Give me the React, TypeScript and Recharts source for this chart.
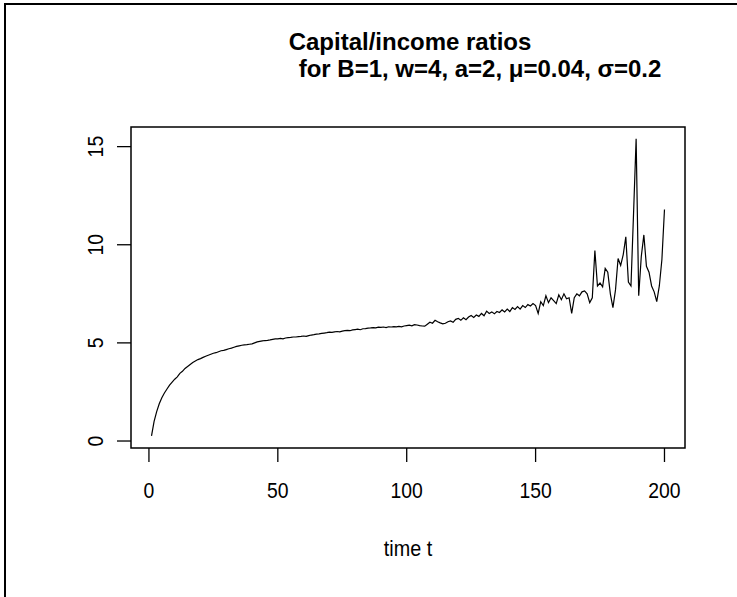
import React, { useEffect } from "react"
import { LineChart, Line, XAxis, YAxis, ReferenceArea } from "recharts"

// capital/income ratio at t = 1..200
const ratio = [
  0.26, 1.0, 1.5, 1.9, 2.2, 2.45, 2.65, 2.85, 3.0, 3.15,
  3.27, 3.45, 3.55, 3.7, 3.8, 3.9, 4.0, 4.08, 4.15, 4.2,
  4.26, 4.32, 4.37, 4.42, 4.47, 4.5, 4.55, 4.6, 4.62, 4.66,
  4.7, 4.73, 4.78, 4.82, 4.85, 4.88, 4.9, 4.91, 4.93, 4.95,
  5.0, 5.05, 5.08, 5.1, 5.12, 5.13, 5.15, 5.18, 5.2, 5.2,
  5.23, 5.21, 5.25, 5.27, 5.28, 5.3, 5.3, 5.32, 5.33, 5.35,
  5.33, 5.37, 5.4, 5.42, 5.45, 5.46, 5.48, 5.5, 5.52, 5.55,
  5.54, 5.56, 5.58, 5.56, 5.6, 5.62, 5.64, 5.62, 5.66, 5.68,
  5.7, 5.67, 5.72, 5.73, 5.75, 5.76, 5.78, 5.77, 5.8, 5.79,
  5.81, 5.78, 5.82, 5.81, 5.83, 5.82, 5.84, 5.82, 5.86, 5.88,
  5.9, 5.87, 5.93, 5.91, 5.88, 5.86, 5.85, 5.95, 6.05, 6.0,
  6.15, 6.08, 6.02, 5.97, 6.0, 6.08, 6.12, 6.05, 6.2, 6.25,
  6.15, 6.28, 6.18, 6.32, 6.4, 6.3, 6.42, 6.35, 6.5, 6.38,
  6.62, 6.5, 6.58, 6.48, 6.6, 6.55, 6.68, 6.58, 6.72, 6.6,
  6.8, 6.7, 6.85, 6.72, 6.9, 6.8, 6.95, 6.88, 7.0, 6.9,
  6.5, 7.1, 6.9, 7.4, 7.05, 7.3, 7.15, 7.0, 7.45, 7.2,
  7.5, 7.25, 7.3, 6.5, 7.3, 7.5, 7.4, 7.6, 7.65, 7.5,
  7.05, 7.3, 9.7, 7.9, 8.05, 7.85, 8.8, 8.6, 7.5, 6.8,
  7.7, 9.3, 8.95, 9.5, 10.4, 8.1, 7.9, 11.6, 15.4, 7.4,
  9.4, 10.5, 8.9, 8.6, 7.9, 7.6, 7.1, 7.9, 9.25, 11.8,
]

const xTicks = [0, 50, 100, 150, 200]
const yTicks = [0, 5, 10, 15]
const xDomain = [-6.96, 207.96]
const yDomain = [-0.356, 16.0]

const titleLines = ["Capital/income ratios", "for B=1, w=4, a=2, \u03bc=0.04, \u03c3=0.2"]
const xLabel = "time t"

const data = ratio.map((v, i) => ({ t: i + 1, v }))

const FONT = '"Liberation Sans", Arial, sans-serif'

// R's text here looks a bit narrow and tall
const XTick = (props: any) => {
  const { x, y, payload } = props
  return (
    <text
      transform={`translate(${x},${y + 34}) scale(0.88,1)`}
      textAnchor="middle"
      fontSize={22}
      fontFamily={FONT}
      fill="#000"
    >
      {payload.value}
    </text>
  )
}

const YTick = (props: any) => {
  const { x, y, payload } = props
  return (
    <text
      transform={`translate(${x - 12},${y}) rotate(-90) scale(0.88,1)`}
      textAnchor="middle"
      fontSize={22}
      fontFamily={FONT}
      fill="#000"
    >
      {payload.value}
    </text>
  )
}

export default function App() {
  useEffect(() => {
    document.documentElement.style.overflow = "hidden"
    document.body.style.overflow = "hidden"
    document.body.style.margin = "0"
  }, [])

  return (
    <div
      style={{
        position: "absolute",
        left: 0,
        top: 0,
        width: 737,
        height: 597,
        overflow: "hidden",
        background: "#fff",
      }}
    >
      <div
        style={{
          position: "absolute",
          left: 4,
          top: 3,
          width: 733,
          height: 594,
          boxSizing: "border-box",
          borderTop: "2px solid #000",
          borderLeft: "2px solid #000",
        }}
      />
      <LineChart width={737} height={597} data={data} margin={{ top: 127, right: 52, bottom: 0, left: 0 }}>
        <XAxis
          dataKey="t"
          type="number"
          domain={xDomain}
          ticks={xTicks}
          allowDataOverflow
          axisLine={false}
          tickSize={14}
          tickLine={{ stroke: "#000", strokeWidth: 1.3 }}
          tick={<XTick />}
          height={149}
          interval={0}
        />
        <YAxis
          type="number"
          domain={yDomain}
          ticks={yTicks}
          allowDataOverflow
          axisLine={false}
          tickSize={14}
          tickLine={{ stroke: "#000", strokeWidth: 1.3 }}
          tick={<YTick />}
          width={131}
          interval={0}
        />
        <ReferenceArea
          x1={xDomain[0]}
          x2={xDomain[1]}
          y1={yDomain[0]}
          y2={yDomain[1]}
          fill="none"
          stroke="#000"
          strokeWidth={1.5}
          ifOverflow="visible"
        />
        <Line
          dataKey="v"
          type="linear"
          stroke="#000"
          strokeWidth={1.2}
          dot={false}
          isAnimationActive={false}
        />
      </LineChart>
      <svg
        width={737}
        height={597}
        style={{ position: "absolute", left: 0, top: 0, pointerEvents: "none" }}
      >
        <text x={410} y={50} textAnchor="middle" fontSize={24} fontWeight="bold" fontFamily={FONT} fill="#000">
          {titleLines[0]}
        </text>
        <text x={480} y={77} textAnchor="middle" fontSize={24} fontWeight="bold" fontFamily={FONT} fill="#000">
          {titleLines[1]}
        </text>
        <text
          transform="translate(408,556) scale(0.9,1)"
          textAnchor="middle"
          fontSize={22}
          fontFamily={FONT}
          fill="#000"
        >
          {xLabel}
        </text>
      </svg>
    </div>
  )
}
